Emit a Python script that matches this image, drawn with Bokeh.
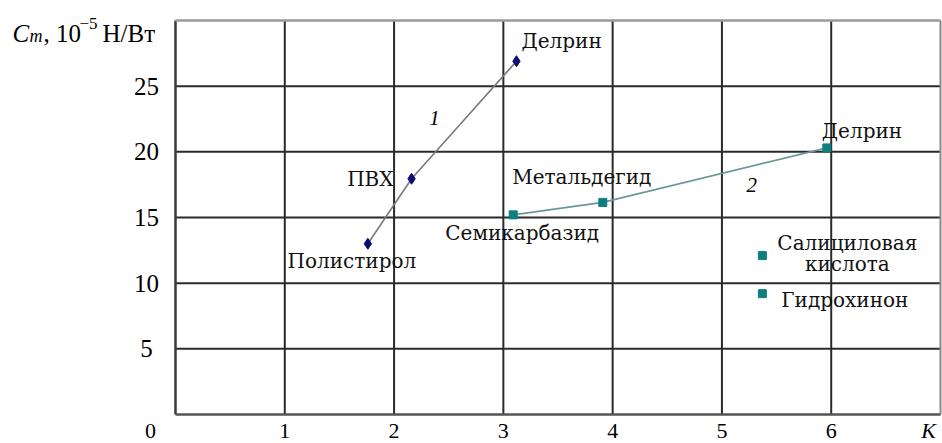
from bokeh.plotting import figure
from bokeh.models import Label, LabelSet, ColumnDataSource, Range1d
from bokeh.embed import file_html
from bokeh.resources import INLINE

# ---- data ----
x_ticks = [1, 2, 3, 4, 5, 6]
x_tick_labels = ["1", "2", "3", "4", "5", "6"]
y_ticks = [5, 10, 15, 20, 25]
y_tick_labels = ["5", "10", "15", "20", "25"]

curve1_k = [1.76, 2.16, 3.12]
curve1_c = [13.0, 17.95, 26.9]
curve1_names = ["Полистирол", "ПВХ", "Делрин"]

curve2_k = [3.09, 3.91, 5.96]
curve2_c = [15.2, 16.15, 20.3]
curve2_names = ["Семикарбазид", "Метальдегид", "Делрин"]

single_k = [5.37, 5.37]
single_c = [12.1, 9.2]
single_names = ["Салициловая\nкислота", "Гидрохинон"]

X_MAX, Y_MAX = 7, 30

# canvas layout (pixels): plot box from x=175..940, y=20..414 on a 942x443 canvas
W, H = 942, 443
BOX_L, BOX_R, BOX_T, BOX_B = 175, 940, 20, 414
sx = (BOX_R - BOX_L) / X_MAX
sy = (BOX_B - BOX_T) / Y_MAX

p = figure(width=W, height=H, output_backend="svg", toolbar_location=None,
           x_range=Range1d(-BOX_L / sx, X_MAX + (W - BOX_R) / sx),
           y_range=Range1d(-(H - BOX_B) / sy, Y_MAX + BOX_T / sy),
           x_axis_location=None, y_axis_location=None, min_border=0)
p.outline_line_color = None
p.xgrid.visible = False
p.ygrid.visible = False
p.background_fill_color = "white"
p.border_fill_color = "white"

GRID = "#2a2a2a"
# grid lines
p.segment(x0=x_ticks, y0=[0] * len(x_ticks), x1=x_ticks, y1=[Y_MAX] * len(x_ticks),
          line_color=GRID, line_width=2)
p.segment(x0=[0] * len(y_ticks), y0=y_ticks, x1=[X_MAX] * len(y_ticks), y1=y_ticks,
          line_color=GRID, line_width=2)
# box edges
p.segment(x0=[0], y0=[0], x1=[0], y1=[Y_MAX], line_color="#3a3a3a", line_width=2.5)
p.segment(x0=[0], y0=[Y_MAX], x1=[X_MAX], y1=[Y_MAX], line_color="#9a9a9a", line_width=2.5)
p.segment(x0=[X_MAX], y0=[0], x1=[X_MAX], y1=[Y_MAX], line_color="#8a8a8a", line_width=2)
p.segment(x0=[0], y0=[0], x1=[X_MAX], y1=[0], line_color="#555555", line_width=2.5)

SERIF = "Liberation Serif"
ANN = "DejaVu Serif"

# tick labels
xs = ColumnDataSource(dict(x=x_ticks, y=[0] * len(x_ticks), t=x_tick_labels))
p.add_layout(LabelSet(x="x", y="y", text="t", source=xs, y_offset=-16, text_align="center",
                      text_baseline="middle", text_font=SERIF, text_font_size="22px", text_color="black"))
ys = ColumnDataSource(dict(x=[0] * len(y_ticks), y=y_ticks, t=y_tick_labels))
p.add_layout(LabelSet(x="x", y="y", text="t", source=ys, x_offset=-29, text_align="center",
                      text_baseline="middle", text_font=SERIF, text_font_size="25px", text_color="black"))
p.add_layout(Label(x=0, y=0, x_offset=-25, y_offset=-16, text="0", text_align="center",
                   text_baseline="middle", text_font=SERIF, text_font_size="22px", text_color="black"))
p.add_layout(Label(x=X_MAX, y=0, x_offset=-12, y_offset=-16, text="K", text_align="center",
                   text_baseline="middle", text_font=SERIF, text_font_style="italic",
                   text_font_size="22px", text_color="black"))

# y-axis title: C_m, 10^-5 Н/Вт
def title_piece(txt, xoff, yoff, size, italic=False):
    p.add_layout(Label(x=0, y=Y_MAX, x_offset=xoff, y_offset=yoff, text=txt, text_align="left",
                       text_baseline="alphabetic", text_font=SERIF,
                       text_font_style="italic" if italic else "normal",
                       text_font_size=size, text_color="black"))

title_piece("C", -163, -13, "25px", True)
title_piece("m", -146, -15, "18px", True)
title_piece(", 10", -132, -13, "25px")
title_piece("\u22125", -96, -3, "17px")
title_piece("Н/Вт", -73, -13, "25px")

# curves
p.line(curve1_k, curve1_c, line_color="#7a7a7a", line_width=1.6)
p.scatter(curve1_k, curve1_c, marker="diamond", size=11, fill_color="#0b0b70", line_color="#0b0b70")

p.line(curve2_k, curve2_c, line_color="#6a9898", line_width=1.6)
p.scatter(curve2_k, curve2_c, marker="square", size=8, fill_color="#0e7f7f", line_color="#0e7f7f")
p.scatter(single_k, single_c, marker="square", size=8, fill_color="#0e7f7f", line_color="#0e7f7f")

def ann(x, y, txt, xo, yo, align):
    p.add_layout(Label(x=x, y=y, x_offset=xo, y_offset=yo, text=txt, text_align=align,
                       text_baseline="middle", text_font=ANN, text_font_size="20px", text_color="#111111"))

ann(curve1_k[0], curve1_c[0], curve1_names[0], -16, -17, "center")
ann(curve1_k[1], curve1_c[1], curve1_names[1], -18, 0, "right")
ann(curve1_k[2], curve1_c[2], curve1_names[2], 5, 20, "left")

ann(curve2_k[0], curve2_c[0], curve2_names[0], 9, -18, "center")
ann(curve2_k[1], curve2_c[1], curve2_names[1], -21, 25, "center")
ann(curve2_k[2], curve2_c[2], curve2_names[2], -5, 17, "left")

sal1, sal2 = single_names[0].split("\n")
ann(single_k[0], single_c[0], sal1, 85, 13, "center")
ann(single_k[0], single_c[0], sal2, 85, -8, "center")
ann(single_k[1], single_c[1], single_names[1], 19, -6, "left")

# curve numbers
p.add_layout(Label(x=curve1_k[1], y=curve1_c[1], x_offset=23, y_offset=61, text="1", text_align="center",
                   text_baseline="middle", text_font=SERIF, text_font_style="italic",
                   text_font_size="21px", text_color="black"))
p.add_layout(Label(x=curve2_k[2], y=curve2_c[2], x_offset=-75, y_offset=-37, text="2", text_align="center",
                   text_baseline="middle", text_font=SERIF, text_font_style="italic",
                   text_font_size="21px", text_color="black"))

open("out.html", "w").write(file_html(p, INLINE))
